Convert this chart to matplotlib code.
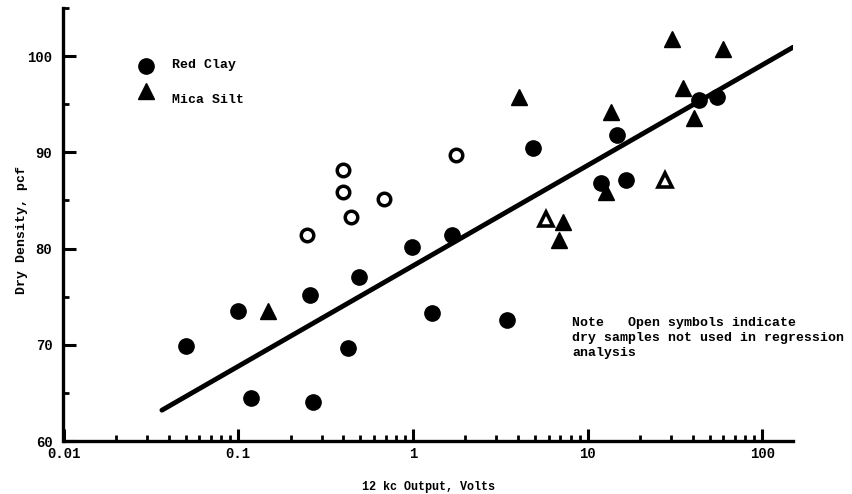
import matplotlib.pyplot as plt
import numpy as np
from matplotlib.ticker import FixedLocator, MultipleLocator, NullFormatter

FONT = "Liberation Mono"

# Red Clay, filled circles (used in regression)
clay_x = [0.050, 0.100, 0.119, 0.259, 0.268, 0.427, 0.493, 0.99, 1.28, 1.68, 3.47, 4.9, 12.0, 14.8, 16.7, 43.3, 54.8]
clay_y = [69.9, 73.5, 64.5, 75.2, 64.1, 69.7, 77.0, 80.2, 73.3, 81.4, 72.6, 90.5, 86.8, 91.8, 87.1, 95.4, 95.8]

# Red Clay, open circles (dry samples)
clay_dry_x = [0.248, 0.40, 0.40, 0.443, 0.687, 1.77]
clay_dry_y = [81.4, 88.2, 85.9, 83.3, 85.2, 89.7]

# Mica Silt, filled triangles
silt_x = [0.149, 4.07, 6.9, 7.2, 12.7, 13.6, 30.3, 35.1, 40.5, 59.3]
silt_y = [73.5, 95.8, 80.9, 82.8, 85.9, 94.2, 101.8, 96.7, 93.6, 100.7]

# Mica Silt, open triangles (dry samples)
silt_dry_x = [5.8, 27.6]
silt_dry_y = [83.1, 87.1]

# regression line: density = a + b * log10(volts)
reg_a = 78.2
reg_b = 10.44
reg_range = [0.0366, 150.0]

fig = plt.figure(figsize=(8.52, 4.94), dpi=100)
ax = fig.add_axes([63.5 / 852, 1 - 441 / 494, 729.5 / 852, 433 / 494])

xr = np.logspace(np.log10(reg_range[0]), np.log10(reg_range[1]), 50)
ax.plot(xr, reg_a + reg_b * np.log10(xr), color="black", lw=3.5, solid_capstyle="round", zorder=2)

ax.plot(clay_x, clay_y, "o", ms=11, color="black", zorder=3)
ax.plot(clay_dry_x, clay_dry_y, "o", ms=9, mfc="white", mec="black", mew=2.5, zorder=3)
ax.plot(silt_x, silt_y, "^", ms=11, color="black", zorder=3)
ax.plot(silt_dry_x, silt_dry_y, "^", ms=10, mfc="white", mec="black", mew=2.6, zorder=3)

ax.set_xscale("log")
ax.set_xlim(0.01, 150)
ax.set_ylim(60, 105)

for s in ["top", "right"]:
    ax.spines[s].set_visible(False)
for s in ["left", "bottom"]:
    ax.spines[s].set_linewidth(2.4)

ax.xaxis.set_major_locator(FixedLocator([0.01, 0.1, 1, 10, 100]))
ax.set_xticklabels(["0.01", "0.1", "1", "10", "100"])
ax.xaxis.set_minor_locator(FixedLocator([m * d for d in [0.01, 0.1, 1, 10] for m in range(2, 10)]))
ax.xaxis.set_minor_formatter(NullFormatter())
ax.yaxis.set_major_locator(FixedLocator([60, 70, 80, 90, 100]))
ax.yaxis.set_minor_locator(MultipleLocator(5))

ax.tick_params(which="major", direction="in", length=9, width=2.2, labelsize=10, pad=4)
ax.tick_params(which="minor", direction="in", length=4.5, width=2.0)
ax.tick_params(axis="y", which="major", pad=8)
for lab in ax.get_xticklabels() + ax.get_yticklabels():
    lab.set_fontfamily(FONT)
    lab.set_fontweight("bold")

# legend drawn by hand
ax.plot([0.113], [0.866], "o", ms=11, color="black", transform=ax.transAxes, clip_on=False)
ax.plot([0.113], [0.808], "^", ms=11, color="black", transform=ax.transAxes, clip_on=False)
ax.text(0.149, 0.868, "Red Clay", transform=ax.transAxes, family=FONT, weight="bold", size=9.5, va="center")
ax.text(0.149, 0.788, "Mica Silt", transform=ax.transAxes, family=FONT, weight="bold", size=9.5, va="center")

ax.text(0.697, 0.286, "Note   Open symbols indicate\ndry samples not used in regression\nanalysis",
        transform=ax.transAxes, family=FONT, weight="bold", size=9.5, va="top", linespacing=1.3)

fig.text(428 / 852, 1 - 487 / 494, "12 kc Output, Volts", family=FONT, weight="bold", size=8.5,
         ha="center", va="center")
fig.text(22 / 852, 1 - 230 / 494, "Dry Density, pcf", family=FONT, weight="bold", size=9.5,
         ha="center", va="center", rotation=90)

fig.savefig("out.png", dpi=100)
